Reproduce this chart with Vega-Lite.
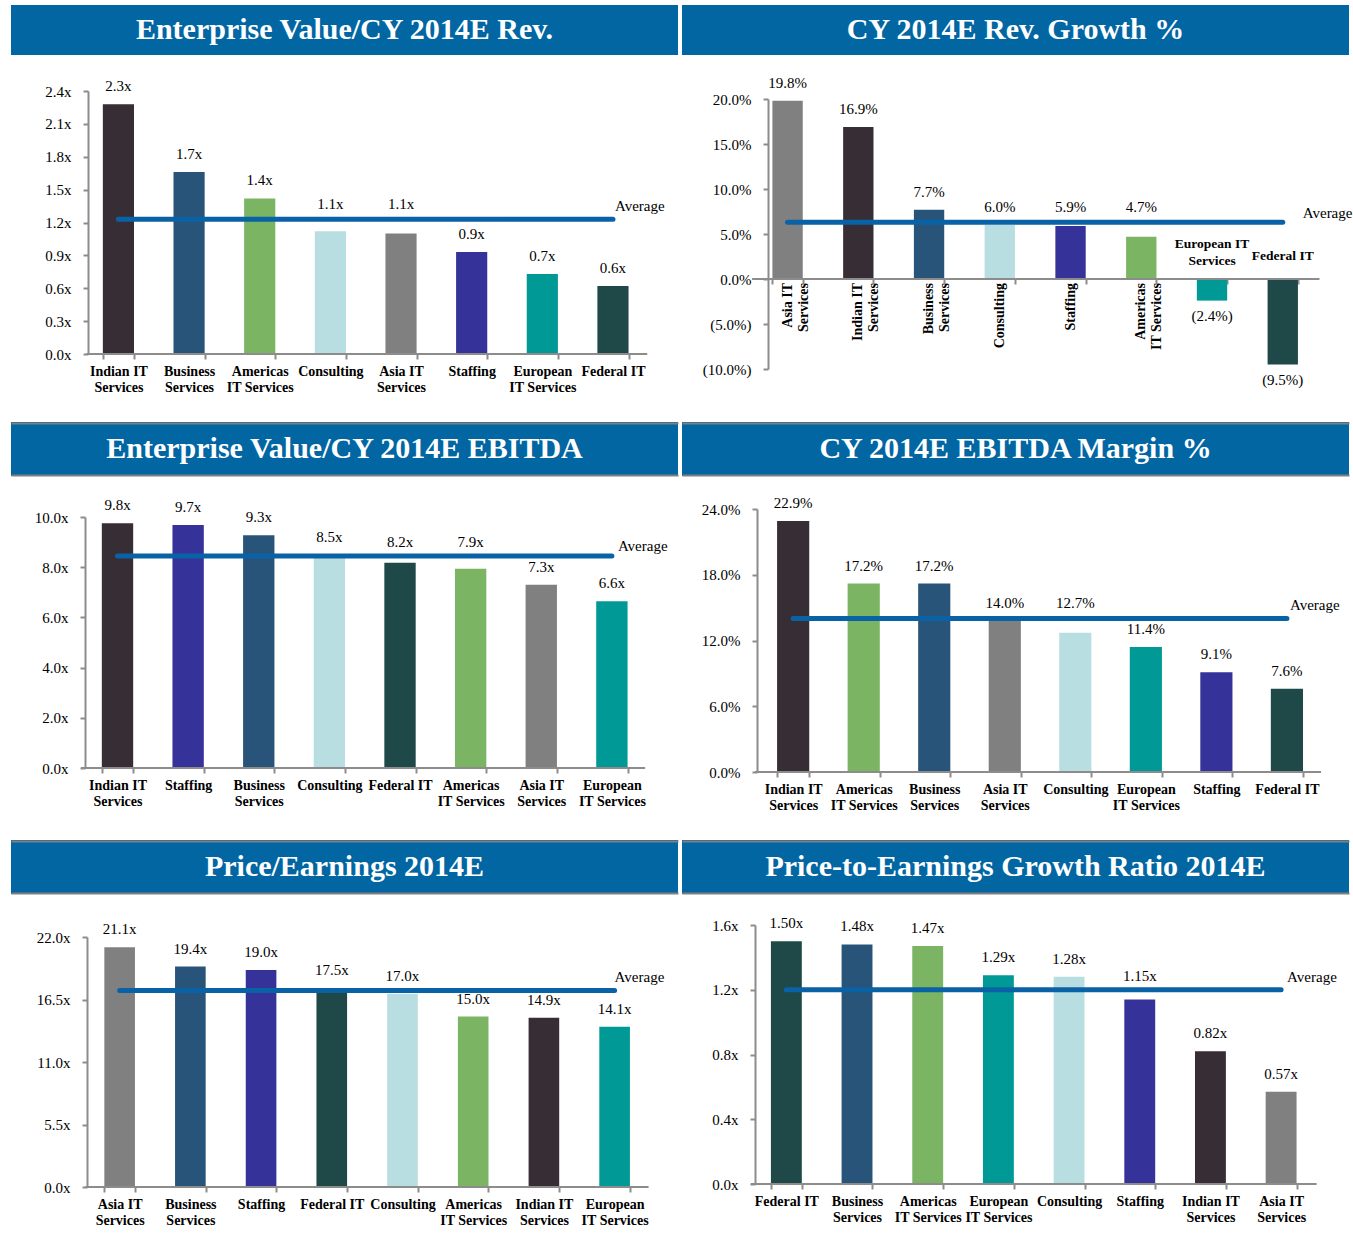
{
  "$schema": "https://vega.github.io/schema/vega-lite/v6.json",
  "padding": {"left": 11, "top": 5, "right": 0, "bottom": 0},
  "spacing": 28,
  "vconcat": [
    {"hconcat": [
      {"bounds": "flush", "spacing": 36, "vconcat": [
        {"width": 667, "height": 50, "view": {"fill": "#0266a3", "stroke": null},
         "data": {"values": [{"t": "Enterprise Value/CY 2014E Rev."}]},
         "mark": {"type": "text", "color": "#ffffff", "fontSize": 30, "fontWeight": "bold"},
         "encoding": {"text": {"field": "t", "type": "nominal"}}},
        {"width": 667, "height": 263,
         "data": {"values": [
           {"cat": "Indian IT|Services", "v": 2.28, "label": "2.3x"},
           {"cat": "Business|Services", "v": 1.66, "label": "1.7x"},
           {"cat": "Americas|IT Services", "v": 1.42, "label": "1.4x"},
           {"cat": "Consulting", "v": 1.12, "label": "1.1x"},
           {"cat": "Asia IT|Services", "v": 1.10, "label": "1.1x"},
           {"cat": "Staffing", "v": 0.93, "label": "0.9x"},
           {"cat": "European|IT Services", "v": 0.73, "label": "0.7x"},
           {"cat": "Federal IT", "v": 0.62, "label": "0.6x"}
         ]},
         "layer": [
          {"mark": {"type": "bar"},
           "encoding": {
            "x": {"field": "cat", "type": "nominal", "sort": null, "title": null, "scale": {"paddingInner": 0.559, "paddingOuter": 1.0235, "align": 0.65}, "axis": {"labelExpr": "isValid(datum.value) ? split(datum.value, '|') : ''"}},
            "y": {"field": "v", "type": "quantitative", "title": null, "scale": {"domain": [0, 2.4], "nice": false}, "axis": {"values": [0, 0.3, 0.6, 0.9, 1.2, 1.5, 1.8, 2.1, 2.4], "tickCount": 20, "labelOverlap": false, "labelExpr": "format(datum.value, '.1f') + 'x'", "offset": -77}},
            "color": {"field": "cat", "type": "nominal", "legend": null, "scale": {"domain": ["Indian IT|Services", "Business|Services", "Americas|IT Services", "Consulting", "Asia IT|Services", "Staffing", "European|IT Services", "Federal IT"], "range": ["#372d35", "#29547a", "#7bb462", "#b9dee2", "#808080", "#353399", "#009995", "#1f4849"]}}
           }},
          {"data": {"values": [{"from": "Indian IT|Services", "to": "Federal IT", "avg": 1.23, "name": "Average"}]},
           "layer": [
            {"mark": {"type": "rule", "color": "#8c8c8c", "strokeWidth": 2, "strokeCap": "butt"},
             "encoding": {"x": {"field": "from", "type": "nominal", "sort": null, "title": null, "bandPosition": -0.53}, "x2": {"field": "to", "bandPosition": 1.6}, "y": {"datum": 0, "type": "quantitative"}}},
            {"mark": {"type": "rule"},
             "encoding": {"x": {"field": "from", "type": "nominal", "sort": null, "title": null}, "x2": {"field": "to"}, "y": {"field": "avg", "type": "quantitative", "title": null}}},
            {"mark": {"type": "text", "align": "left", "baseline": "bottom", "dx": 2, "dy": -5},
             "encoding": {"x": {"field": "to", "type": "nominal", "sort": null, "title": null}, "y": {"field": "avg", "type": "quantitative", "title": null}, "text": {"field": "name", "type": "nominal"}}}
           ]},
          {"transform": [{"joinaggregate": [{"op": "mean", "field": "v", "as": "m"}]}, {"filter": "datum.v >= datum.m || datum.m - datum.v > 0.192"}],
           "mark": {"type": "text", "baseline": "bottom", "dy": -10},
           "encoding": {"x": {"field": "cat", "type": "nominal", "sort": null, "title": null}, "y": {"field": "v", "type": "quantitative", "title": null}, "text": {"field": "label", "type": "nominal"}}},
          {"transform": [{"joinaggregate": [{"op": "mean", "field": "v", "as": "m"}]}, {"filter": "datum.v < datum.m && datum.m - datum.v <= 0.192"}],
           "mark": {"type": "text", "baseline": "bottom", "dy": -7},
           "encoding": {"x": {"field": "cat", "type": "nominal", "sort": null, "title": null}, "y": {"field": "m", "type": "quantitative", "title": null}, "text": {"field": "label", "type": "nominal"}}}
         ]}
      ]},
      {"bounds": "flush", "spacing": 44, "vconcat": [
        {"width": 667, "height": 50, "view": {"fill": "#0266a3", "stroke": null},
         "data": {"values": [{"t": "CY 2014E Rev. Growth %"}]},
         "mark": {"type": "text", "color": "#ffffff", "fontSize": 30, "fontWeight": "bold"},
         "encoding": {"text": {"field": "t", "type": "nominal"}}},
        {"width": 667, "height": 270,
         "data": {"values": [
           {"cat": "Asia IT|Services", "name": "Asia IT|Services", "v": 19.8, "label": "19.8%", "rot": true},
           {"cat": "Indian IT|Services", "name": "Indian IT|Services", "v": 16.9, "label": "16.9%", "rot": true},
           {"cat": "Business|Services", "name": "Business|Services", "v": 7.7, "label": "7.7%", "rot": true},
           {"cat": "Consulting", "name": "Consulting", "v": 6.0, "label": "6.0%", "rot": true},
           {"cat": "Staffing", "name": "Staffing", "v": 5.9, "label": "5.9%", "rot": true},
           {"cat": "Americas|IT Services", "name": "Americas|IT Services", "v": 4.7, "label": "4.7%", "rot": true},
           {"cat": "European|IT Services", "name": "European IT|Services", "v": -2.4, "label": "(2.4%)", "rot": false},
           {"cat": "Federal IT", "name": "Federal IT", "v": -9.5, "label": "(9.5%)", "rot": false}
         ]},
         "layer": [
          {"mark": {"type": "bar"},
           "encoding": {
            "x": {"field": "cat", "type": "nominal", "sort": null, "title": null, "scale": {"paddingInner": 0.571, "paddingOuter": 1.221, "align": 0.639}, "axis": {"labels": false, "offset": -90}},
            "y": {"field": "v", "type": "quantitative", "title": null, "scale": {"domain": [-10, 20], "nice": false}, "axis": {"values": [-10, -5, 0, 5, 10, 15, 20], "tickCount": 20, "labelOverlap": false, "labelExpr": "datum.value < 0 ? '(' + format(-datum.value, '.1f') + '%)' : format(datum.value, '.1f') + '%'", "offset": -86}},
            "color": {"field": "cat", "type": "nominal", "legend": null}
           }},
          {"data": {"values": [{"from": "Asia IT|Services", "to": "Federal IT", "avg": 6.3, "name": "Average"}]},
           "layer": [
            {"mark": {"type": "rule", "color": "#8c8c8c", "strokeWidth": 2, "strokeCap": "butt"},
             "encoding": {"x": {"field": "from", "type": "nominal", "sort": null, "title": null, "bandPosition": -0.67}, "x2": {"field": "to", "bandPosition": 1.71}, "y": {"datum": 0, "type": "quantitative"}}},
            {"mark": {"type": "rule"},
             "encoding": {"x": {"field": "from", "type": "nominal", "sort": null, "title": null}, "x2": {"field": "to"}, "y": {"field": "avg", "type": "quantitative", "title": null}}},
            {"mark": {"type": "text", "align": "left", "baseline": "bottom", "dx": 20, "dy": -1},
             "encoding": {"x": {"field": "to", "type": "nominal", "sort": null, "title": null}, "y": {"field": "avg", "type": "quantitative", "title": null}, "text": {"field": "name", "type": "nominal"}}}
           ]},
          {"transform": [{"joinaggregate": [{"op": "mean", "field": "v", "as": "m"}]}, {"filter": "datum.v >= 0 && (datum.v >= datum.m || datum.m - datum.v > 2.4)"}],
           "mark": {"type": "text", "baseline": "bottom", "dy": -10},
           "encoding": {"x": {"field": "cat", "type": "nominal", "sort": null, "title": null}, "y": {"field": "v", "type": "quantitative", "title": null}, "text": {"field": "label", "type": "nominal"}}},
          {"transform": [{"joinaggregate": [{"op": "mean", "field": "v", "as": "m"}]}, {"filter": "datum.v >= 0 && datum.v < datum.m && datum.m - datum.v <= 2.4"}],
           "mark": {"type": "text", "baseline": "bottom", "dy": -9},
           "encoding": {"x": {"field": "cat", "type": "nominal", "sort": null, "title": null}, "y": {"field": "m", "type": "quantitative", "title": null}, "text": {"field": "label", "type": "nominal"}}},
          {"transform": [{"filter": "datum.v < 0"}],
           "mark": {"type": "text", "baseline": "top", "dy": 8},
           "encoding": {"x": {"field": "cat", "type": "nominal", "sort": null, "title": null}, "y": {"field": "v", "type": "quantitative", "title": null}, "text": {"field": "label", "type": "nominal"}}},
          {"transform": [{"filter": "datum.rot"}],
           "mark": {"type": "text", "angle": 270, "align": "right", "baseline": "middle", "dx": -4, "fontWeight": "bold", "fontSize": 14, "lineBreak": "|", "lineHeight": 16},
           "encoding": {"x": {"field": "cat", "type": "nominal", "sort": null, "title": null}, "y": {"datum": 0, "type": "quantitative"}, "text": {"field": "name", "type": "nominal"}}},
          {"transform": [{"filter": "!datum.rot && indexof(datum.name, '|') >= 0"}],
           "mark": {"type": "text", "baseline": "bottom", "dy": -28, "fontWeight": "bold", "fontSize": 13.5, "lineBreak": "|", "lineHeight": 17},
           "encoding": {"x": {"field": "cat", "type": "nominal", "sort": null, "title": null}, "y": {"datum": 0, "type": "quantitative"}, "text": {"field": "name", "type": "nominal"}}},
          {"transform": [{"filter": "!datum.rot && indexof(datum.name, '|') < 0"}],
           "mark": {"type": "text", "baseline": "bottom", "dy": -16, "fontWeight": "bold", "fontSize": 13.5},
           "encoding": {"x": {"field": "cat", "type": "nominal", "sort": null, "title": null}, "y": {"datum": 0, "type": "quantitative"}, "text": {"field": "name", "type": "nominal"}}}
         ]}
      ]}
    ], "spacing": 4},
    {"hconcat": [
      {"bounds": "flush", "spacing": 41, "vconcat": [
        {"width": 667, "height": 54, "view": {"fill": "#0266a3", "stroke": null},
         "data": {"values": [{"t": "Enterprise Value/CY 2014E EBITDA"}]},
         "mark": {"type": "text", "color": "#ffffff", "fontSize": 30, "fontWeight": "bold"},
         "encoding": {"y": {"datum": 0.5, "type": "quantitative", "scale": {"domain": [-0.0192, 1.0192], "nice": false}, "axis": {"values": [0, 1], "grid": true, "gridColor": "#808080", "gridWidth": 2, "gridOpacity": 1, "labels": false, "ticks": false, "domain": false, "title": null, "minExtent": 0}}, "text": {"field": "t", "type": "nominal"}}},
        {"width": 667, "height": 251,
         "data": {"values": [
           {"cat": "Indian IT|Services", "v": 9.75, "label": "9.8x"},
           {"cat": "Staffing", "v": 9.68, "label": "9.7x"},
           {"cat": "Business|Services", "v": 9.27, "label": "9.3x"},
           {"cat": "Consulting", "v": 8.5, "label": "8.5x"},
           {"cat": "Federal IT", "v": 8.18, "label": "8.2x"},
           {"cat": "Americas|IT Services", "v": 7.94, "label": "7.9x"},
           {"cat": "Asia IT|Services", "v": 7.3, "label": "7.3x"},
           {"cat": "European|IT Services", "v": 6.64, "label": "6.6x"}
         ]},
         "layer": [
          {"mark": {"type": "bar"},
           "encoding": {
            "x": {"field": "cat", "type": "nominal", "sort": null, "title": null, "scale": {"paddingInner": 0.556, "paddingOuter": 1.052, "align": 0.643}, "axis": {"labelExpr": "isValid(datum.value) ? split(datum.value, '|') : ''"}},
            "y": {"field": "v", "type": "quantitative", "title": null, "scale": {"domain": [0, 10], "nice": false}, "axis": {"values": [0, 2, 4, 6, 8, 10], "tickCount": 20, "labelOverlap": false, "labelExpr": "format(datum.value, '.1f') + 'x'", "offset": -74}},
            "color": {"field": "cat", "type": "nominal", "legend": null, "scale": {"domain": ["Indian IT|Services", "Business|Services", "Americas|IT Services", "Consulting", "Asia IT|Services", "Staffing", "European|IT Services", "Federal IT"], "range": ["#372d35", "#29547a", "#7bb462", "#b9dee2", "#808080", "#353399", "#009995", "#1f4849"]}}
           }},
          {"data": {"values": [{"from": "Indian IT|Services", "to": "European|IT Services", "avg": 8.45, "name": "Average"}]},
           "layer": [
            {"mark": {"type": "rule", "color": "#8c8c8c", "strokeWidth": 2, "strokeCap": "butt"},
             "encoding": {"x": {"field": "from", "type": "nominal", "sort": null, "title": null, "bandPosition": -0.66}, "x2": {"field": "to", "bandPosition": 1.56}, "y": {"datum": 0, "type": "quantitative"}}},
            {"mark": {"type": "rule"},
             "encoding": {"x": {"field": "from", "type": "nominal", "sort": null, "title": null}, "x2": {"field": "to"}, "y": {"field": "avg", "type": "quantitative", "title": null}}},
            {"mark": {"type": "text", "align": "left", "baseline": "bottom", "dx": 6, "dy": -2},
             "encoding": {"x": {"field": "to", "type": "nominal", "sort": null, "title": null}, "y": {"field": "avg", "type": "quantitative", "title": null}, "text": {"field": "name", "type": "nominal"}}}
           ]},
          {"transform": [{"joinaggregate": [{"op": "mean", "field": "v", "as": "m"}]}, {"filter": "datum.v >= datum.m || datum.m - datum.v > 0.8"}],
           "mark": {"type": "text", "baseline": "bottom", "dy": -10},
           "encoding": {"x": {"field": "cat", "type": "nominal", "sort": null, "title": null}, "y": {"field": "v", "type": "quantitative", "title": null}, "text": {"field": "label", "type": "nominal"}}},
          {"transform": [{"joinaggregate": [{"op": "mean", "field": "v", "as": "m"}]}, {"filter": "datum.v < datum.m && datum.m - datum.v <= 0.8"}],
           "mark": {"type": "text", "baseline": "bottom", "dy": -7},
           "encoding": {"x": {"field": "cat", "type": "nominal", "sort": null, "title": null}, "y": {"field": "m", "type": "quantitative", "title": null}, "text": {"field": "label", "type": "nominal"}}}
         ]}
      ]},
      {"bounds": "flush", "spacing": 33, "vconcat": [
        {"width": 667, "height": 54, "view": {"fill": "#0266a3", "stroke": null},
         "data": {"values": [{"t": "CY 2014E EBITDA Margin %"}]},
         "mark": {"type": "text", "color": "#ffffff", "fontSize": 30, "fontWeight": "bold"},
         "encoding": {"y": {"datum": 0.5, "type": "quantitative", "scale": {"domain": [-0.0192, 1.0192], "nice": false}, "axis": {"values": [0, 1], "grid": true, "gridColor": "#808080", "gridWidth": 2, "gridOpacity": 1, "labels": false, "ticks": false, "domain": false, "title": null, "minExtent": 0}}, "text": {"field": "t", "type": "nominal"}}},
        {"width": 667, "height": 263,
         "data": {"values": [
           {"cat": "Indian IT|Services", "v": 22.9, "label": "22.9%"},
           {"cat": "Americas|IT Services", "v": 17.2, "label": "17.2%"},
           {"cat": "Business|Services", "v": 17.2, "label": "17.2%"},
           {"cat": "Asia IT|Services", "v": 14.0, "label": "14.0%"},
           {"cat": "Consulting", "v": 12.7, "label": "12.7%"},
           {"cat": "European|IT Services", "v": 11.4, "label": "11.4%"},
           {"cat": "Staffing", "v": 9.1, "label": "9.1%"},
           {"cat": "Federal IT", "v": 7.6, "label": "7.6%"}
         ]},
         "layer": [
          {"mark": {"type": "bar"},
           "encoding": {
            "x": {"field": "cat", "type": "nominal", "sort": null, "title": null, "scale": {"paddingInner": 0.544, "paddingOuter": 1.027, "align": 0.674}, "axis": {"labelExpr": "isValid(datum.value) ? split(datum.value, '|') : ''"}},
            "y": {"field": "v", "type": "quantitative", "title": null, "scale": {"domain": [0, 24], "nice": false}, "axis": {"values": [0, 6, 12, 18, 24], "tickCount": 20, "labelOverlap": false, "labelExpr": "format(datum.value, '.1f') + '%'", "offset": -75}},
            "color": {"field": "cat", "type": "nominal", "legend": null, "scale": {"domain": ["Indian IT|Services", "Business|Services", "Americas|IT Services", "Consulting", "Asia IT|Services", "Staffing", "European|IT Services", "Federal IT"], "range": ["#372d35", "#29547a", "#7bb462", "#b9dee2", "#808080", "#353399", "#009995", "#1f4849"]}}
           }},
          {"data": {"values": [{"from": "Indian IT|Services", "to": "Federal IT", "avg": 14.0, "name": "Average"}]},
           "layer": [
            {"mark": {"type": "rule", "color": "#8c8c8c", "strokeWidth": 2, "strokeCap": "butt"},
             "encoding": {"x": {"field": "from", "type": "nominal", "sort": null, "title": null, "bandPosition": -0.69}, "x2": {"field": "to", "bandPosition": 1.56}, "y": {"datum": 0, "type": "quantitative"}}},
            {"mark": {"type": "rule"},
             "encoding": {"x": {"field": "from", "type": "nominal", "sort": null, "title": null}, "x2": {"field": "to"}, "y": {"field": "avg", "type": "quantitative", "title": null}}},
            {"mark": {"type": "text", "align": "left", "baseline": "bottom", "dx": 3, "dy": -6},
             "encoding": {"x": {"field": "to", "type": "nominal", "sort": null, "title": null}, "y": {"field": "avg", "type": "quantitative", "title": null}, "text": {"field": "name", "type": "nominal"}}}
           ]},
          {"transform": [{"joinaggregate": [{"op": "mean", "field": "v", "as": "m"}]}, {"filter": "datum.v >= datum.m || datum.m - datum.v > 1.92"}],
           "mark": {"type": "text", "baseline": "bottom", "dy": -10},
           "encoding": {"x": {"field": "cat", "type": "nominal", "sort": null, "title": null}, "y": {"field": "v", "type": "quantitative", "title": null}, "text": {"field": "label", "type": "nominal"}}},
          {"transform": [{"joinaggregate": [{"op": "mean", "field": "v", "as": "m"}]}, {"filter": "datum.v < datum.m && datum.m - datum.v <= 1.92"}],
           "mark": {"type": "text", "baseline": "bottom", "dy": -7},
           "encoding": {"x": {"field": "cat", "type": "nominal", "sort": null, "title": null}, "y": {"field": "m", "type": "quantitative", "title": null}, "text": {"field": "label", "type": "nominal"}}}
         ]}
      ]}
    ], "spacing": 4},
    {"hconcat": [
      {"bounds": "flush", "spacing": 43, "vconcat": [
        {"width": 667, "height": 54, "view": {"fill": "#0266a3", "stroke": null},
         "data": {"values": [{"t": "Price/Earnings 2014E"}]},
         "mark": {"type": "text", "color": "#ffffff", "fontSize": 30, "fontWeight": "bold"},
         "encoding": {"y": {"datum": 0.5, "type": "quantitative", "scale": {"domain": [-0.0192, 1.0192], "nice": false}, "axis": {"values": [0, 1], "grid": true, "gridColor": "#808080", "gridWidth": 2, "gridOpacity": 1, "labels": false, "ticks": false, "domain": false, "title": null, "minExtent": 0}}, "text": {"field": "t", "type": "nominal"}}},
        {"width": 667, "height": 250,
         "data": {"values": [
           {"cat": "Asia IT|Services", "v": 21.1, "label": "21.1x"},
           {"cat": "Business|Services", "v": 19.4, "label": "19.4x"},
           {"cat": "Staffing", "v": 19.1, "label": "19.0x"},
           {"cat": "Federal IT", "v": 17.5, "label": "17.5x"},
           {"cat": "Consulting", "v": 17.0, "label": "17.0x"},
           {"cat": "Americas|IT Services", "v": 15.0, "label": "15.0x"},
           {"cat": "Indian IT|Services", "v": 14.9, "label": "14.9x"},
           {"cat": "European|IT Services", "v": 14.1, "label": "14.1x"}
         ]},
         "layer": [
          {"mark": {"type": "bar"},
           "encoding": {
            "x": {"field": "cat", "type": "nominal", "sort": null, "title": null, "scale": {"paddingInner": 0.567, "paddingOuter": 1.019, "align": 0.66}, "axis": {"labelExpr": "isValid(datum.value) ? split(datum.value, '|') : ''"}},
            "y": {"field": "v", "type": "quantitative", "title": null, "scale": {"domain": [0, 22], "nice": false}, "axis": {"values": [0, 5.5, 11, 16.5, 22], "tickCount": 20, "labelOverlap": false, "labelExpr": "format(datum.value, '.1f') + 'x'", "offset": -76}},
            "color": {"field": "cat", "type": "nominal", "legend": null, "scale": {"domain": ["Indian IT|Services", "Business|Services", "Americas|IT Services", "Consulting", "Asia IT|Services", "Staffing", "European|IT Services", "Federal IT"], "range": ["#372d35", "#29547a", "#7bb462", "#b9dee2", "#808080", "#353399", "#009995", "#1f4849"]}}
           }},
          {"data": {"values": [{"from": "Asia IT|Services", "to": "European|IT Services", "avg": 17.3, "name": "Average"}]},
           "layer": [
            {"mark": {"type": "rule", "color": "#8c8c8c", "strokeWidth": 2, "strokeCap": "butt"},
             "encoding": {"x": {"field": "from", "type": "nominal", "sort": null, "title": null, "bandPosition": -0.62}, "x2": {"field": "to", "bandPosition": 1.61}, "y": {"datum": 0, "type": "quantitative"}}},
            {"mark": {"type": "rule"},
             "encoding": {"x": {"field": "from", "type": "nominal", "sort": null, "title": null}, "x2": {"field": "to"}, "y": {"field": "avg", "type": "quantitative", "title": null}}},
            {"mark": {"type": "text", "align": "left", "baseline": "bottom", "dx": 0, "dy": -5},
             "encoding": {"x": {"field": "to", "type": "nominal", "sort": null, "title": null}, "y": {"field": "avg", "type": "quantitative", "title": null}, "text": {"field": "name", "type": "nominal"}}}
           ]},
          {"transform": [{"joinaggregate": [{"op": "mean", "field": "v", "as": "m"}]}, {"filter": "datum.v >= datum.m || datum.m - datum.v > 1.76"}],
           "mark": {"type": "text", "baseline": "bottom", "dy": -10},
           "encoding": {"x": {"field": "cat", "type": "nominal", "sort": null, "title": null}, "y": {"field": "v", "type": "quantitative", "title": null}, "text": {"field": "label", "type": "nominal"}}},
          {"transform": [{"joinaggregate": [{"op": "mean", "field": "v", "as": "m"}]}, {"filter": "datum.v < datum.m && datum.m - datum.v <= 1.76"}],
           "mark": {"type": "text", "baseline": "bottom", "dy": -7},
           "encoding": {"x": {"field": "cat", "type": "nominal", "sort": null, "title": null}, "y": {"field": "m", "type": "quantitative", "title": null}, "text": {"field": "label", "type": "nominal"}}}
         ]}
      ]},
      {"bounds": "flush", "spacing": 31, "vconcat": [
        {"width": 667, "height": 54, "view": {"fill": "#0266a3", "stroke": null},
         "data": {"values": [{"t": "Price-to-Earnings Growth Ratio 2014E"}]},
         "mark": {"type": "text", "color": "#ffffff", "fontSize": 30, "fontWeight": "bold"},
         "encoding": {"y": {"datum": 0.5, "type": "quantitative", "scale": {"domain": [-0.0192, 1.0192], "nice": false}, "axis": {"values": [0, 1], "grid": true, "gridColor": "#808080", "gridWidth": 2, "gridOpacity": 1, "labels": false, "ticks": false, "domain": false, "title": null, "minExtent": 0}}, "text": {"field": "t", "type": "nominal"}}},
        {"width": 667, "height": 259,
         "data": {"values": [
           {"cat": "Federal IT", "v": 1.50, "label": "1.50x"},
           {"cat": "Business|Services", "v": 1.48, "label": "1.48x"},
           {"cat": "Americas|IT Services", "v": 1.47, "label": "1.47x"},
           {"cat": "European|IT Services", "v": 1.29, "label": "1.29x"},
           {"cat": "Consulting", "v": 1.28, "label": "1.28x"},
           {"cat": "Staffing", "v": 1.14, "label": "1.15x"},
           {"cat": "Indian IT|Services", "v": 0.82, "label": "0.82x"},
           {"cat": "Asia IT|Services", "v": 0.57, "label": "0.57x"}
         ]},
         "layer": [
          {"mark": {"type": "bar"},
           "encoding": {
            "x": {"field": "cat", "type": "nominal", "sort": null, "title": null, "scale": {"paddingInner": 0.563, "paddingOuter": 1.0555, "align": 0.629}, "axis": {"labelExpr": "isValid(datum.value) ? split(datum.value, '|') : ''"}},
            "y": {"field": "v", "type": "quantitative", "title": null, "scale": {"domain": [0, 1.6], "nice": false}, "axis": {"values": [0, 0.4, 0.8, 1.2, 1.6], "tickCount": 20, "labelOverlap": false, "labelExpr": "format(datum.value, '.1f') + 'x'", "offset": -73}},
            "color": {"field": "cat", "type": "nominal", "legend": null, "scale": {"domain": ["Indian IT|Services", "Business|Services", "Americas|IT Services", "Consulting", "Asia IT|Services", "Staffing", "European|IT Services", "Federal IT"], "range": ["#372d35", "#29547a", "#7bb462", "#b9dee2", "#808080", "#353399", "#009995", "#1f4849"]}}
           }},
          {"data": {"values": [{"from": "Federal IT", "to": "Asia IT|Services", "avg": 1.2, "name": "Average"}]},
           "layer": [
            {"mark": {"type": "rule", "color": "#8c8c8c", "strokeWidth": 2, "strokeCap": "butt"},
             "encoding": {"x": {"field": "from", "type": "nominal", "sort": null, "title": null, "bandPosition": -0.65}, "x2": {"field": "to", "bandPosition": 1.65}, "y": {"datum": 0, "type": "quantitative"}}},
            {"mark": {"type": "rule"},
             "encoding": {"x": {"field": "from", "type": "nominal", "sort": null, "title": null}, "x2": {"field": "to"}, "y": {"field": "avg", "type": "quantitative", "title": null}}},
            {"mark": {"type": "text", "align": "left", "baseline": "bottom", "dx": 6, "dy": -5},
             "encoding": {"x": {"field": "to", "type": "nominal", "sort": null, "title": null}, "y": {"field": "avg", "type": "quantitative", "title": null}, "text": {"field": "name", "type": "nominal"}}}
           ]},
          {"transform": [{"joinaggregate": [{"op": "mean", "field": "v", "as": "m"}]}, {"filter": "datum.v >= datum.m || datum.m - datum.v > 0.128"}],
           "mark": {"type": "text", "baseline": "bottom", "dy": -10},
           "encoding": {"x": {"field": "cat", "type": "nominal", "sort": null, "title": null}, "y": {"field": "v", "type": "quantitative", "title": null}, "text": {"field": "label", "type": "nominal"}}},
          {"transform": [{"joinaggregate": [{"op": "mean", "field": "v", "as": "m"}]}, {"filter": "datum.v < datum.m && datum.m - datum.v <= 0.128"}],
           "mark": {"type": "text", "baseline": "bottom", "dy": -7},
           "encoding": {"x": {"field": "cat", "type": "nominal", "sort": null, "title": null}, "y": {"field": "m", "type": "quantitative", "title": null}, "text": {"field": "label", "type": "nominal"}}}
         ]}
      ]}
    ], "spacing": 4}
  ],
  "config": {
    "view": {"stroke": null},
    "font": "Liberation Serif",
    "axis": {"domainColor": "#8c8c8c", "domainWidth": 2, "tickColor": "#8c8c8c", "tickWidth": 2, "tickSize": 5, "labelFont": "Liberation Serif", "labelColor": "#000000", "grid": false},
    "axisX": {"domain": false, "labelAngle": 0, "labelFontWeight": "bold", "labelFontSize": 14, "labelLineHeight": 16, "labelPadding": 5, "tickBand": "extent"},
    "axisY": {"labelFontSize": 15, "labelPadding": 12, "labelOverlap": false},
    "text": {"font": "Liberation Serif", "fontSize": 15, "color": "#000000"},
    "rule": {"color": "#0a62a6", "strokeWidth": 5, "strokeCap": "round"}
  }
}
